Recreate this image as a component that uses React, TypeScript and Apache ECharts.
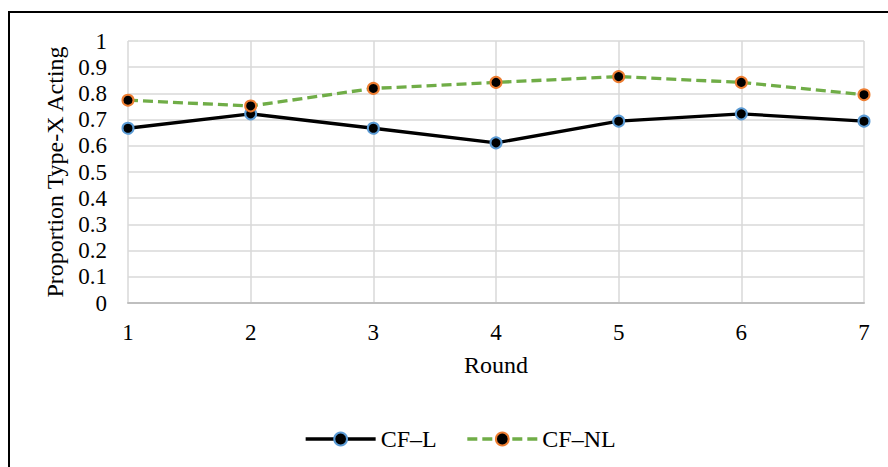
import React, { useEffect, useRef } from "react";
import * as echarts from "echarts";

const rounds = ["1", "2", "3", "4", "5", "6", "7"];
const cfL = [0.667, 0.722, 0.667, 0.611, 0.694, 0.722, 0.694];
const cfNL = [0.774, 0.752, 0.819, 0.842, 0.864, 0.842, 0.795];
const seriesNames = ["CF\u2013L", "CF\u2013NL"];

const FONT = "'Liberation Serif', 'Times New Roman', serif";

export default function App() {
  const ref = useRef<HTMLDivElement>(null);
  useEffect(() => {
    if (!ref.current) return;
    const chart = echarts.init(ref.current, undefined, { renderer: "svg" });
    chart.setOption({
      animation: false,
      backgroundColor: "#ffffff",
      textStyle: { fontFamily: FONT, color: "#000" },
      graphic: [
        {
          type: "rect",
          shape: { x: 9, y: 12, width: 900, height: 500 },
          style: { fill: "none", stroke: "#000", lineWidth: 2 },
          silent: true,
        },
      ],
      grid: { left: 128, right: 24, top: 41, bottom: 164, containLabel: false },
      legend: {
        left: 299,
        top: 422,
        itemWidth: 70,
        itemHeight: 16,
        itemGap: 29,
        data: seriesNames,
        lineStyle: { width: 3.3 },
        textStyle: { fontFamily: FONT, fontSize: 24, color: "#000" },
      },
      xAxis: {
        type: "category",
        data: rounds,
        boundaryGap: false,
        name: "Round",
        nameLocation: "middle",
        nameGap: 50,
        nameTextStyle: { fontFamily: FONT, fontSize: 24, color: "#000" },
        axisLine: { show: true, lineStyle: { color: "#bfbfbf", width: 2 } },
        axisTick: { show: false },
        axisLabel: { margin: 18, fontFamily: FONT, fontSize: 23, color: "#000" },
        splitLine: { show: true, lineStyle: { color: "#d9d9d9", width: 1.5 } },
      },
      yAxis: {
        type: "value",
        min: 0,
        max: 1,
        interval: 0.1,
        name: "Proportion Type-X Acting",
        nameLocation: "middle",
        nameGap: 58,
        nameTextStyle: { fontFamily: FONT, fontSize: 24, color: "#000" },
        axisLine: { show: false },
        axisTick: { show: false },
        axisLabel: {
          margin: 21,
          fontFamily: FONT,
          fontSize: 23,
          color: "#000",
          formatter: (v: number) => String(Math.round(v * 10) / 10),
        },
        splitLine: { show: true, lineStyle: { color: "#d9d9d9", width: 1.5 } },
      },
      series: [
        {
          name: seriesNames[0],
          type: "line",
          data: cfL,
          symbol: "circle",
          symbolSize: 11,
          lineStyle: { color: "#000", width: 3.3 },
          itemStyle: { color: "#000", borderColor: "#5b9bd5", borderWidth: 2 },
          z: 3,
        },
        {
          name: seriesNames[1],
          type: "line",
          data: cfNL,
          symbol: "circle",
          symbolSize: 11,
          lineStyle: { color: "#70ad47", width: 3.3, type: [10, 5] },
          itemStyle: { color: "#000", borderColor: "#ed7d31", borderWidth: 2 },
          z: 4,
        },
      ],
    });
    return () => chart.dispose();
  }, []);
  return (
    <div
      ref={ref}
      style={{ position: "fixed", left: 0, top: 0, width: 888, height: 467 }}
    />
  );
}
